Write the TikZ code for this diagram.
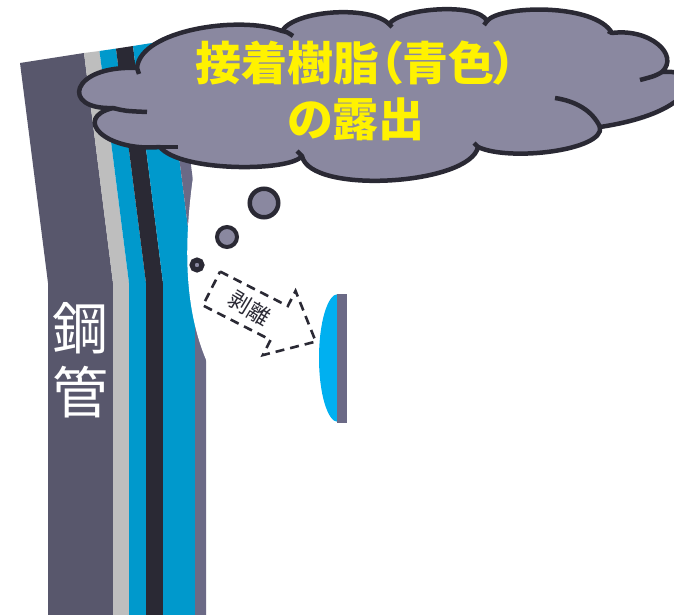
\documentclass[tikz,border=0pt]{standalone}
\usepackage{fontspec}
\usepackage{tikz}
\newfontfamily\jpfont{Noto Sans CJK JP}
\newfontfamily\jptitlefont{Noto Sans CJK JP}[RawFeature=+palt]

\definecolor{steel}{RGB}{88,87,108}
\definecolor{primer}{RGB}{190,190,190}
\definecolor{resin}{RGB}{0,153,204}
\definecolor{tape}{RGB}{42,41,52}
\definecolor{coat}{RGB}{107,106,134}
\definecolor{smoke}{RGB}{138,136,160}
\definecolor{chip}{RGB}{0,176,240}

\tikzset{
    cloud/.style={
           fill=smoke,
           draw=tape,
           line width=4.5pt,
           line join=round,
           },
    puff/.style={draw=tape, line width=4.5pt},
    bubble/.style={
           circle,
           draw=tape,
           fill=smoke,
           inner sep=0pt,
           },
    peel/.style={draw=tape, line width=2.6pt, dash pattern=on 9pt off 6pt},
}

\begin{document}
\begin{tikzpicture}[x=1pt,y=-1pt]
 \useasboundingbox (0,0) rectangle (674,615);

 % pipe wall: layers, leaning at the top, straight below y=283
 \fill[steel]  (20,63)    -- (84,53)   -- (113,283) -- (113,615) -- (48,615)  -- (48,283)  -- cycle;
 \fill[primer] (84,53)    -- (99.5,51) -- (129,283) -- (129,615) -- (113,615) -- (113,283) -- cycle;
 \fill[resin]  (99.5,51)  -- (116,48.6)-- (146,283) -- (146,615) -- (129,615) -- (129,283) -- cycle;
 \fill[tape]   (116,48.6) -- (133,46)  -- (163,283) -- (163,615) -- (146,615) -- (146,283) -- cycle;
 \fill[resin]  (133,46)   -- (164.4,41)-- (195,283) -- (195,615) -- (163,615) -- (163,283) -- cycle;
 \fill[coat]   (164.4,41) -- (175,39.5)-- (206,283) -- (206,615) -- (195,615) -- (195,283) -- cycle;

 % the gap where the coating came off
 \fill[white] (194,170) .. controls (186,225) and (180,300) .. (207,362)
   -- (240,362) -- (240,170) -- cycle;

 % bubbles
 \node[bubble, line width=4.5pt, minimum size=28.5pt] (bubble1) at (264,203) {};
 \node[bubble, line width=4pt,   minimum size=20pt]   (bubble2) at (227,237) {};
 \node[bubble, line width=5pt,   minimum size=10pt]   (bubble3) at (197,265) {};

 % dashed block arrow
 \begin{scope}[shift={(211.5,288.5)}, rotate=-27]
  \draw[peel] (0,-19) -- (76,-19) -- (76,-36) -- (117,0) -- (76,36) -- (76,19) -- (0,19) -- cycle;
  \node[rotate=-31, text=tape, inner sep=0pt, font=\jpfont\fontsize{22}{24}\selectfont] (peeltext) at (43,0) {剥離};
 \end{scope}

 % piece that came off
 \fill[chip] (338,294) .. controls (327.5,294) and (319,322.7) .. (319,358)
   .. controls (319,393.3) and (327.5,422) .. (338,422) -- cycle;
 \fill[coat] (337,294) rectangle (347,423);

 % cloud
 \filldraw[cloud] (137,68) .. controls (140,30) and (240,15) .. (282,31)
   .. controls (295,10) and (370,5) .. (389,24)
   .. controls (400,8) and (478,2) .. (487,21)
   .. controls (500,5) and (595,3) .. (612,33)
   .. controls (650,28) and (680,55) .. (662,72)
   .. controls (705,68) and (700,112) .. (600,127)
   .. controls (605,150) and (510,162) .. (478,147)
   .. controls (470,185) and (310,195) .. (302,156)
   .. controls (290,172) and (180,172) .. (160,147)
   .. controls (105,152) and (72,118) .. (113,108)
   .. controls (60,110) and (70,65) .. (137,68) -- cycle;
 % inner arcs of the puffs
 \draw[puff] (113,108) .. controls (125,111) .. (147,112);
 \draw[puff] (160,147) -- (178,147);
 \draw[puff] (137,68) -- (139,74);
 \draw[puff] (282,31) .. controls (287,32) .. (293,36);
 \draw[puff] (389,24) -- (392,27);
 \draw[puff] (487,21) -- (484,25);
 \draw[puff] (612,33) -- (608,31);
 \draw[puff] (662,72) .. controls (655,76) .. (640,80);
 \draw[puff] (600,127) .. controls (592,110) and (575,101) .. (555,98);
 \draw[puff] (478,147) -- (474,143);
 \draw[puff] (302,156) -- (297,151);

 \node[text=yellow, align=center, font=\jptitlefont\bfseries\fontsize{46}{56}\selectfont]
   (resinlabel) at (356,91) {接着樹脂（青色）\\の露出};

 \node[text=white, align=center, font=\jpfont\fontsize{56}{64}\selectfont]
   (pipelabel) at (80,360) {鋼\\管};

\end{tikzpicture}
\end{document}
